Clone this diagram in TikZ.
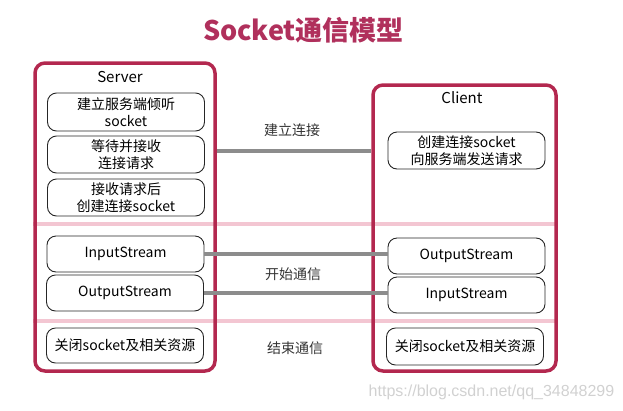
\documentclass[tikz,border=0pt]{standalone}
\usepackage{fontspec}
\setmainfont{Noto Sans CJK SC}
\newfontfamily\wmfont{Liberation Sans}
\usetikzlibrary{backgrounds}
\definecolor{frameRed}{HTML}{B3284F}
\definecolor{titleRed}{HTML}{B0305C}
\definecolor{sepPink}{HTML}{F3C6D2}
\definecolor{linkGray}{HTML}{8C8C8C}
\begin{document}
\begin{tikzpicture}[x=1pt,y=-1pt,
	frame/.style={draw=frameRed, line width=3.5pt, rounded corners=10pt, inner sep=0pt},
	stepbox/.style={draw=black!85, line width=0.9pt, rounded corners=9pt, inner sep=0pt,
		minimum width=157pt, align=center, font=\fontsize{14}{17}\selectfont},
	link/.style={draw=linkGray, line width=4pt},
	sep/.style={draw=sepPink, line width=4pt},
	note/.style={font=\fontsize{14}{17}\selectfont, text=black!80}]
	\useasboundingbox (0,0) rectangle (623,410);
	\node[text=titleRed, font=\fontsize{27}{30}\selectfont\bfseries] (title) at (303.5,30) {Socket通信模型};
	% outer frames
	\node[frame, minimum width=180pt, minimum height=308pt] (srv) at (125,217) {};
	\node[frame, minimum width=183pt, minimum height=286pt] (cli) at (464.5,228) {};
	\node[font=\fontsize{15}{17}\selectfont] (srvName) at (120,77) {Server};
	\node[font=\fontsize{15}{17}\selectfont] (cliName) at (462,98) {Client};
	% server steps
	\node[stepbox, minimum height=38pt] (srvListen) at (126,112) {建立服务端倾听\\socket};
	\node[stepbox, minimum height=37pt] (srvWait) at (126,154.5) {等待并接收\\连接请求};
	\node[stepbox, minimum height=37pt] (srvAccept) at (126,197.5) {接收请求后\\创建连接socket};
	\node[stepbox, minimum height=36pt] (srvIn) at (125.5,254) {InputStream};
	\node[stepbox, minimum height=36pt] (srvOut) at (125,293) {OutputStream};
	\node[stepbox, minimum height=35pt] (srvClose) at (125,345.5) {关闭socket及相关资源};
	% client steps
	\node[stepbox, minimum height=37pt] (cliConn) at (466.5,150.5) {创建连接socket\\向服务端发送请求};
	\node[stepbox, minimum height=36pt] (cliOut) at (466.5,256) {OutputStream};
	\node[stepbox, minimum height=36pt] (cliIn) at (466.5,295) {InputStream};
	\node[stepbox, minimum height=37pt] (cliClose) at (465,346.5) {关闭socket及相关资源};
	% phases
	\node[note] (phaseConn) at (292,130) {建立连接};
	\node[note] (phaseTalk) at (293,274) {开始通信};
	\node[note] (phaseEnd) at (295,348) {结束通信};
	\draw[link] (srv.east |- cliConn) -- (cli.west |- cliConn);
	\draw[link] (srvIn.east) -- (srvIn.east -| cliOut.west);
	\draw[link] (srvOut.east) -- (srvOut.east -| cliIn.west);
	\begin{pgfonlayer}{background}
		\coordinate (sepTop) at (0,224);
		\coordinate (sepLow) at (0,321);
		\draw[sep] (srv.west |- sepTop) -- (cli.east |- sepTop);
		\draw[sep] (srv.west |- sepLow) -- (cli.east |- sepLow);
	\end{pgfonlayer}
	\node[text=black!18, font=\wmfont\fontsize{16}{18}\selectfont] (mark) at (491.5,392) {https://blog.csdn.net/qq\_34848299};
\end{tikzpicture}
\end{document}
